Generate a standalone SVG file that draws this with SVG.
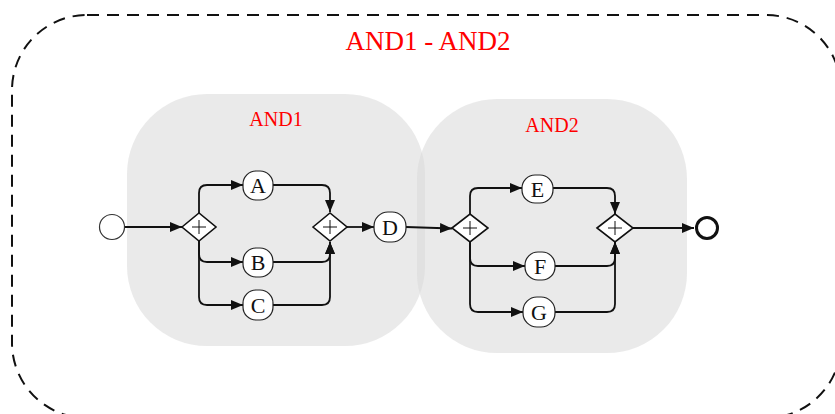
<svg xmlns="http://www.w3.org/2000/svg" width="835" height="414" viewBox="0 0 835 414">
  <style>
    .frame { fill: none; stroke: #111; stroke-width: 2; stroke-dasharray: 12 8; }
    .lane { fill: #d8d8d8; fill-opacity: 0.55; }
    .title { font-family: "Liberation Serif", "Times New Roman", serif; fill: #ff0000; text-anchor: middle; }
    .task { fill: #fff; stroke: #222; stroke-width: 1.2; }
    .label { font-family: "Liberation Serif", "Times New Roman", serif; font-size: 22px; fill: #111; text-anchor: middle; dominant-baseline: central; }
    .gw { fill: #fff; stroke: #111; stroke-width: 1.6; }
    .plus { stroke: #111; stroke-width: 1; fill: none; }
    .flow { fill: none; stroke: #111; stroke-width: 1.8; marker-end: url(#arrow); }
  </style>
  <defs>
    <marker id="arrow" markerUnits="userSpaceOnUse" markerWidth="12" markerHeight="10" refX="12" refY="5" orient="auto">
      <path d="M0,0 L12,5 L0,10 z" fill="#111"/>
    </marker>
  </defs>

  <rect width="835" height="414" fill="#fff"/>

  <!-- outer dashed sub-process -->
  <g id="and1-and2">
    <rect class="frame" x="12" y="15" width="829" height="403" rx="75" ry="75"/>
    <text class="title" x="428" y="50" font-size="27">AND1 - AND2</text>
  </g>

  <!-- shaded blocks -->
  <g id="and1">
    <rect class="lane" x="127" y="94" width="298" height="252" rx="80" ry="80"/>
    <text class="title" x="276" y="126" font-size="20">AND1</text>
  </g>
  <g id="and2">
    <rect class="lane" x="417" y="99" width="270" height="254" rx="80" ry="80"/>
    <text class="title" x="552" y="132" font-size="20">AND2</text>
  </g>

  <!-- connectors -->
  <g id="connectors">
    <path class="flow" d="M125,227 H182"/>
    <path class="flow" d="M199,213 V193 Q199,185 207,185 H243"/>
    <path class="flow" d="M199,241 V254 Q199,262 207,262 H243"/>
    <path class="flow" d="M199,241 V297 Q199,305 207,305 H243"/>
    <path class="flow" d="M273,185 H322 Q330,185 330,193 V212"/>
    <path class="flow" d="M273,262 H322 Q330,262 330,254 V242"/>
    <path class="flow" d="M273,305 H322 Q330,305 330,297 V242"/>
    <path class="flow" d="M347,227 H374"/>
    <path class="flow" d="M406,227 L452,228.5"/>
    <path class="flow" d="M470,214 V196 Q470,188 478,188 H522"/>
    <path class="flow" d="M470,242 V258 Q470,266 478,266 H525"/>
    <path class="flow" d="M470,242 V304 Q470,312 478,312 H523"/>
    <path class="flow" d="M553,188 H607 Q615,188 615,196 V214"/>
    <path class="flow" d="M555,266 H607 Q615,266 615,258 V242"/>
    <path class="flow" d="M555,312 H607 Q615,312 615,304 V242"/>
    <path class="flow" d="M632,228 H694"/>
  </g>

  <!-- events -->
  <g id="start">
    <circle cx="112" cy="227" r="12.5" fill="#fff" stroke="#333" stroke-width="1.2"/>
  </g>
  <g id="end">
    <circle cx="707" cy="228" r="10.5" fill="#fff" stroke="#111" stroke-width="3"/>
  </g>

  <!-- gateways -->
  <g id="split1">
    <path class="gw" d="M182,227 L199,213 L216,227 L199,241 z"/>
    <path class="plus" d="M192,227 H206 M199,220 V234"/>
  </g>
  <g id="join1">
    <path class="gw" d="M313,227 L330,213 L347,227 L330,241 z"/>
    <path class="plus" d="M323,227 H337 M330,220 V234"/>
  </g>
  <g id="split2">
    <path class="gw" d="M452,228 L470,214 L488,228 L470,242 z"/>
    <path class="plus" d="M463,228 H477 M470,221 V235"/>
  </g>
  <g id="join2">
    <path class="gw" d="M597,228 L615,214 L633,228 L615,242 z"/>
    <path class="plus" d="M608,228 H622 M615,221 V235"/>
  </g>

  <!-- tasks -->
  <g id="A">
    <rect class="task" x="243" y="171" width="30" height="29" rx="13"/>
    <text class="label" x="258" y="185.5">A</text>
  </g>
  <g id="B">
    <rect class="task" x="243" y="248" width="30" height="29" rx="13"/>
    <text class="label" x="258" y="262.5">B</text>
  </g>
  <g id="C">
    <rect class="task" x="243" y="290" width="30" height="30" rx="13"/>
    <text class="label" x="258" y="305">C</text>
  </g>
  <g id="D">
    <rect class="task" x="374" y="212" width="32" height="30" rx="14"/>
    <text class="label" x="390" y="227">D</text>
  </g>
  <g id="E">
    <rect class="task" x="522" y="175" width="31" height="28" rx="13"/>
    <text class="label" x="537.5" y="189">E</text>
  </g>
  <g id="F">
    <rect class="task" x="525" y="252" width="30" height="28" rx="13"/>
    <text class="label" x="540" y="266">F</text>
  </g>
  <g id="G">
    <rect class="task" x="523" y="297" width="32" height="30" rx="14"/>
    <text class="label" x="539" y="312">G</text>
  </g>
</svg>
